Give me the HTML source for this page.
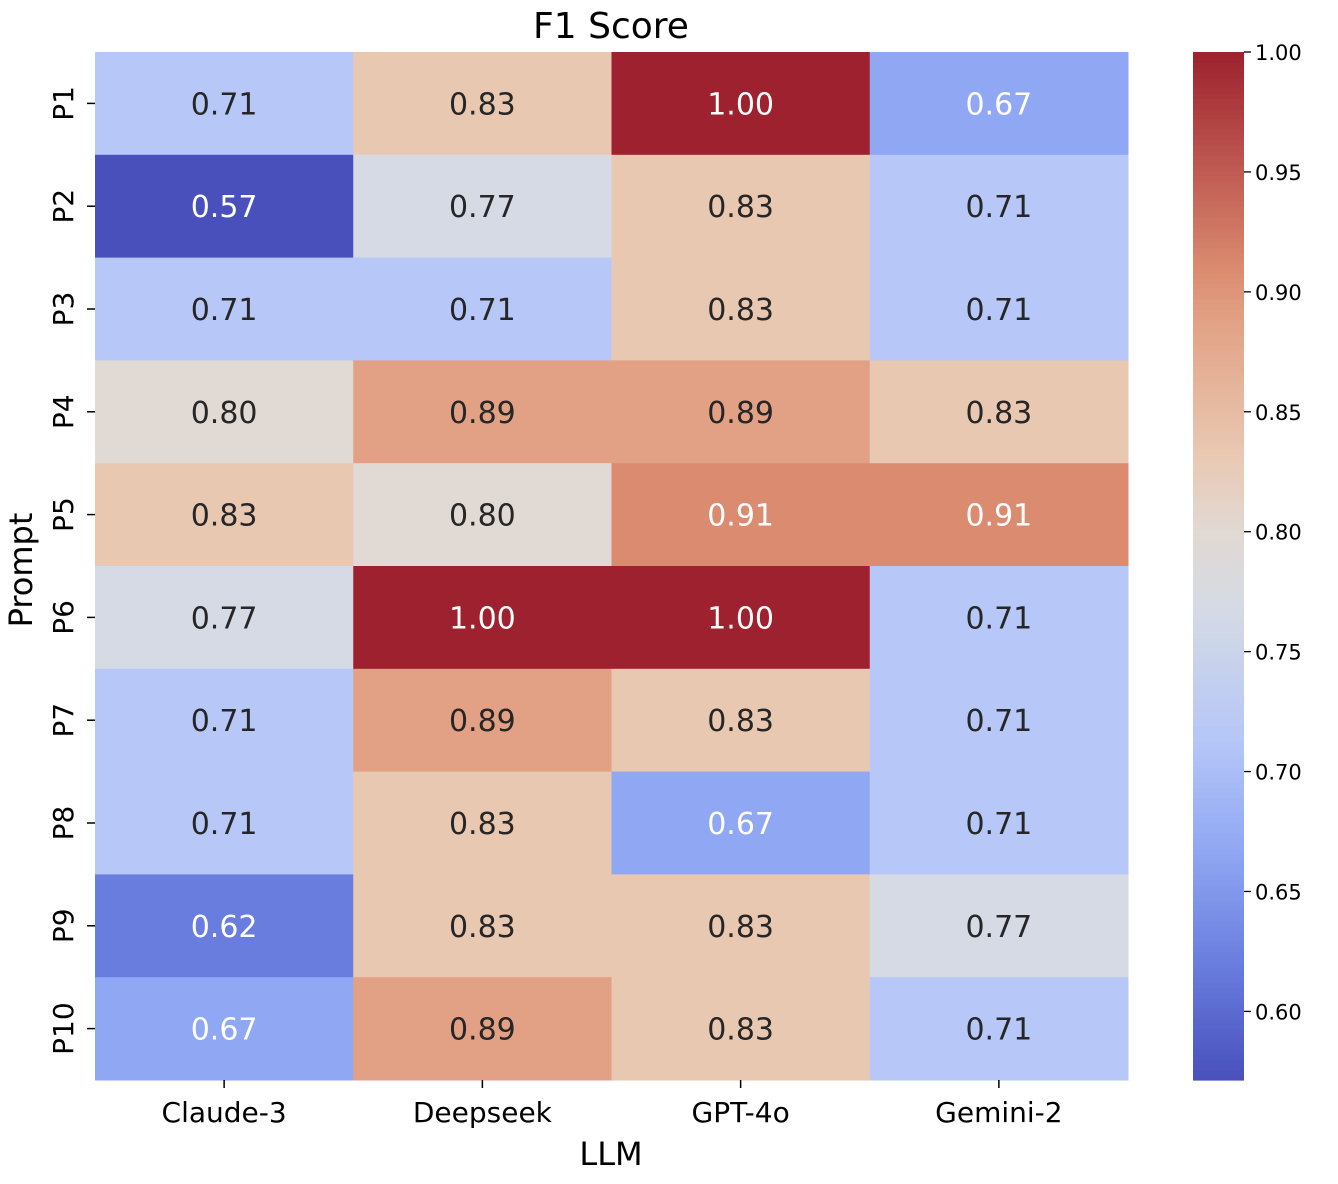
<!DOCTYPE html>
<html><head><meta charset="utf-8"><style>
body{margin:0;background:#fff}
svg{display:block;font-family:"DejaVu Sans","Liberation Sans",sans-serif}
</style></head><body>
<svg id="chart" width="1338" height="1184" xmlns="http://www.w3.org/2000/svg"></svg>
<script>
const models = ["Claude-3","Deepseek","GPT-4o","Gemini-2"];
const prompts = ["P1","P2","P3","P4","P5","P6","P7","P8","P9","P10"];
const scoresClaude = [0.714,0.571,0.714,0.800,0.833,0.769,0.714,0.714,0.620,0.667];
const scoresDeepseek = [0.833,0.769,0.714,0.889,0.800,1.000,0.889,0.833,0.833,0.889];
const scoresGPT = [1.000,0.833,0.833,0.889,0.909,1.000,0.833,0.667,0.833,0.833];
const scoresGemini = [0.667,0.714,0.714,0.833,0.909,0.714,0.714,0.714,0.769,0.714];
const cbTicks = [0.60,0.65,0.70,0.75,0.80,0.85,0.90,0.95,1.00];

const series=[scoresClaude,scoresDeepseek,scoresGPT,scoresGemini];
const vmin=0.5714, vmax=1.0;
const X0=95,X1=1128,Y0=52,Y1=1080;
const cw=(X1-X0)/models.length, ch=(Y1-Y0)/prompts.length;
const xPos=i=>X0+i*cw, yPos=j=>Y0+j*ch;
const anchors=[[0.5714,[73,80,188]],[0.62,[105,125,222]],[0.667,[144,167,243]],[0.714,[182,199,248]],[0.769,[213,218,228]],[0.80,[225,217,211]],[0.833,[233,200,178]],[0.889,[226,161,132]],[0.909,[219,140,112]],[1.0,[157,33,46]]];
function cmap(v){v=Math.max(vmin,Math.min(vmax,v));
 for(let i=0;i<anchors.length-1;i++){const [a,ca]=anchors[i],[b,cb]=anchors[i+1];
  if(v<=b){const r=(v-a)/(b-a);return ca.map((c,k)=>Math.round(c+(cb[k]-c)*r));}}
 return anchors[anchors.length-1][1];}
const svg=document.getElementById('chart');const NS="http://www.w3.org/2000/svg";
function el(tag,attrs,parent){const e=document.createElementNS(NS,tag);for(const k in attrs)e.setAttribute(k,attrs[k]);(parent||svg).appendChild(e);return e;}
function txt(s,attrs){const e=el('text',attrs);e.textContent=s;return e;}

series.forEach((arr,i)=>arr.forEach((v,j)=>{
 const c=cmap(v);
 const r=el('rect',{x:xPos(i),y:yPos(j),width:cw+0.5,height:ch+0.5,fill:`rgb(${c})`});
 
 
 const white=(v<0.69||v>0.9);
 const t=txt(v.toFixed(2),{x:xPos(i)+cw/2,y:yPos(j)+ch/2+11,'text-anchor':'middle','font-size':30,fill:white?'#ffffff':'#262626'});
 
 
}));
prompts.forEach((p,j)=>{
 const cy=yPos(j)+ch/2;
 el('line',{x1:87,x2:95,y1:cy,y2:cy,stroke:'#000','stroke-width':1.5});
 const t=txt(p,{x:0,y:0,transform:`translate(73,${cy}) rotate(-90)`,'text-anchor':'middle','font-size':28,fill:'#000'});
 
 
});
models.forEach((m,i)=>{
 const cx=xPos(i)+cw/2;
 el('line',{x1:cx,x2:cx,y1:1080,y2:1088,stroke:'#000','stroke-width':1.5});
 const t=txt(m,{x:cx,y:1122,'text-anchor':'middle','font-size':28,fill:'#000'});
 
 
});
const tt=txt('F1 Score',{x:611,y:38,'text-anchor':'middle','font-size':36,fill:'#000'});

const xl=txt('LLM',{x:611,y:1165,'text-anchor':'middle','font-size':32,fill:'#000'});

const yl=txt('Prompt',{x:0,y:0,transform:'translate(32,570) rotate(-90)','text-anchor':'middle','font-size':32,fill:'#000'});

const CX0=1193,CX1=1244,cbScale=v=>Y1-(v-vmin)/(vmax-vmin)*(Y1-Y0);
const g=el('g',{});
for(let k=0;k<200;k++){const v0=vmin+(vmax-vmin)*k/200,v1=vmin+(vmax-vmin)*(k+1)/200;
 el('rect',{x:CX0,y:cbScale(v1),width:CX1-CX0,height:cbScale(v0)-cbScale(v1)+0.6,fill:`rgb(${cmap((v0+v1)/2)})`},g);}
cbTicks.forEach(v=>{const y=cbScale(v);
 el('line',{x1:CX1,x2:CX1+7,y1:y,y2:y,stroke:'#000','stroke-width':1.3});
 const t=txt(v.toFixed(2),{x:CX1+11,y:y+8,'font-size':21,fill:'#000'});
 });
</script>
</body></html>
